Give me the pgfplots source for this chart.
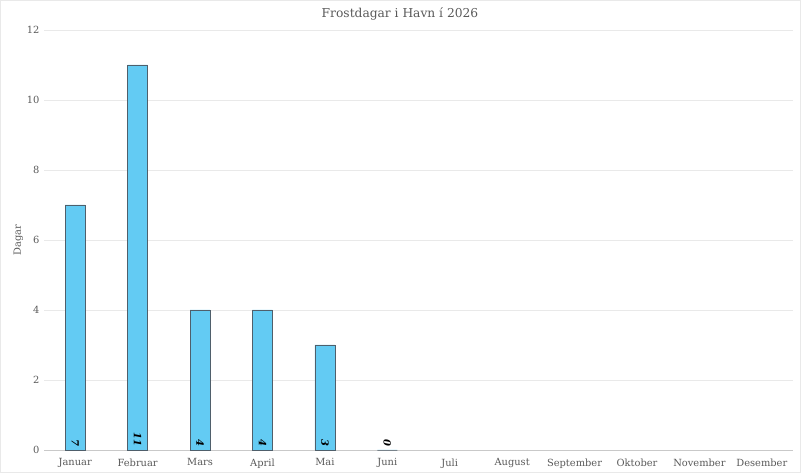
\documentclass[border=0pt]{standalone}
\usepackage{pgfplots}
\pgfplotsset{compat=1.18}
\usepackage{pgfplotstable}
\usepackage{fontspec}
\setmainfont{DejaVu Serif}

\definecolor{barfill}{HTML}{63CBF3}
\definecolor{baredge}{HTML}{4F5F6B}
\definecolor{txt}{HTML}{595959}
\definecolor{gridc}{HTML}{E9E9E9}

\pgfplotstableread{
x y
0 7
1 11
2 4
3 4
4 3
5 0
}\frost

\begin{document}
\begin{tikzpicture}[x=1bp,y=1bp]
\useasboundingbox (0,0) rectangle (801,473);
\draw[gridc] (0.5,0.5) rectangle (800.5,472.5);
\node[txt, font=\fontsize{12.3}{14}\selectfont] at (400,459) {Frostdagar i Havn í 2026};
\begin{axis}[
  at={(44bp,23bp)}, anchor=south west,
  width=749bp, height=420bp, scale only axis,
  xmin=-0.5, xmax=11.5, ymin=0, ymax=12,
  xtick={0,...,11},
  xticklabels={Januar,Februar,Mars,April,Mai,Juni,Juli,August,September,Oktober,November,Desember},
  ytick={0,2,...,12},
  ymajorgrids, grid style={gridc, line width=0.6pt},
  axis x line*=bottom, axis y line*=left,
  y axis line style={draw=none},
  x axis line style={draw=gridc!70!gray, line width=0.6pt, -},
  major tick length=0pt,
  tick label style={txt, font=\fontsize{9.9}{11}\selectfont},
  /pgf/number format/assume math mode=true,
  yticklabel style={xshift=-1bp},
  xticklabel style={yshift=-5bp},
  ylabel={Dagar}, ylabel style={txt, font=\fontsize{9.9}{11}\selectfont},
  ylabel shift=-3bp,
  clip=false,
]
\addplot[ybar, bar width=20bp, fill=barfill, draw=baredge, line width=0.6pt]
  table[x=x, y=y] {\frost};
\addplot[draw=none, mark=none, nodes near coords, point meta=explicit,
  nodes near coords style={rotate=-90, anchor=east, inner ysep=0pt, inner xsep=3bp,
    font=\fontsize{10}{11}\selectfont\bfseries\itshape, text=black}]
  table[x=x, y expr=0, meta=y] {\frost};
\end{axis}
\end{tikzpicture}
\end{document}
